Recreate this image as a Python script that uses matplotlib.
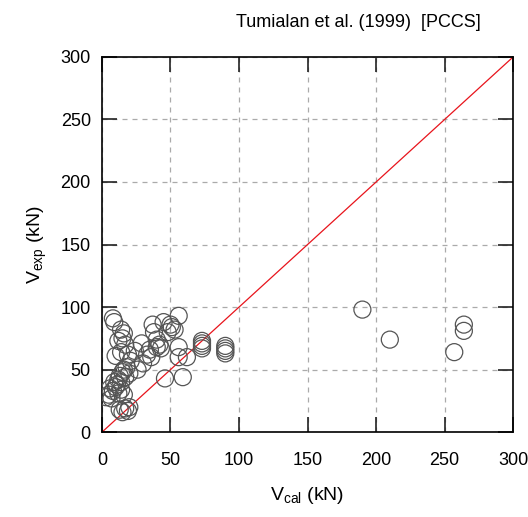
import numpy as np
import matplotlib
matplotlib.use("Agg")
import matplotlib.pyplot as plt

plt.rcParams["font.family"] = ["Liberation Sans", "DejaVu Sans"]
plt.rcParams["mathtext.fontset"] = "custom"
plt.rcParams["mathtext.rm"] = "Liberation Sans"
plt.rcParams["mathtext.it"] = "Liberation Sans"

# calculated vs experimental shear strength (kN)
v_cal = [8, 9, 14, 16, 15, 12, 17, 10, 14, 19, 21, 24, 29, 33, 35, 37, 38, 40, 42, 43,
         45, 48, 50, 51, 53, 56, 56, 56, 62, 73, 73, 73, 73, 90, 90, 90, 90, 46, 59, 40,
         36, 30, 26,
         5, 3, 6, 8, 10, 11, 12, 13, 14, 15, 16, 17, 12, 9, 7, 14, 16, 18, 20,
         13, 15, 17, 19, 20,
         190, 210, 257, 264, 264]
v_exp = [91, 88, 82, 79, 75, 73, 70, 61, 64, 62, 57, 65, 71, 62, 66, 86, 80, 74, 70, 67,
         88, 80, 86, 84, 82, 93, 68, 60, 60, 73, 71, 69, 67, 69, 67, 65, 63, 43, 44, 68,
         60, 55, 50,
         30, 28, 35, 33, 36, 38, 42, 45, 40, 48, 50, 44, 31, 40, 27, 34, 30, 52, 47,
         18, 16, 19, 17, 20,
         98, 74, 64, 86, 81]
ticks = [0, 50, 100, 150, 200, 250, 300]

fig = plt.figure(figsize=(5.28, 5.17), dpi=100)
ax = fig.add_axes([0.193, 0.164, 0.779, 0.726])

ax.grid(True, color="#aaaaaa", linestyle=(0, (4, 4)), linewidth=0.9)
ax.set_axisbelow(True)
ax.plot([0, 300], [0, 300], color="#e8141c", linewidth=0.9, zorder=2)
ax.scatter(v_cal, v_exp, s=150, facecolors="none", edgecolors="#555555",
           linewidths=0.9, zorder=3)

ax.set_xlim(0, 300)
ax.set_ylim(0, 300)
ax.set_xticks(ticks)
ax.set_yticks(ticks)
ax.tick_params(direction="in", length=11, width=1.2, top=True, right=True,
               labelsize=13, color="#222222")
ax.tick_params(axis="x", pad=14)
ax.tick_params(axis="y", pad=8)
for s in ax.spines.values():
    s.set_linewidth(1.2)

ax.set_xlabel(r"V$_{\mathrm{cal}}$ (kN)", fontsize=14, labelpad=12)
ax.set_ylabel(r"V$_{\mathrm{exp}}$ (kN)", fontsize=14, labelpad=8)
fig.text(0.678, 0.957, "Tumialan et al. (1999)  [PCCS]", fontsize=13, ha="center", va="center")

fig.savefig("out.png", dpi=100)
